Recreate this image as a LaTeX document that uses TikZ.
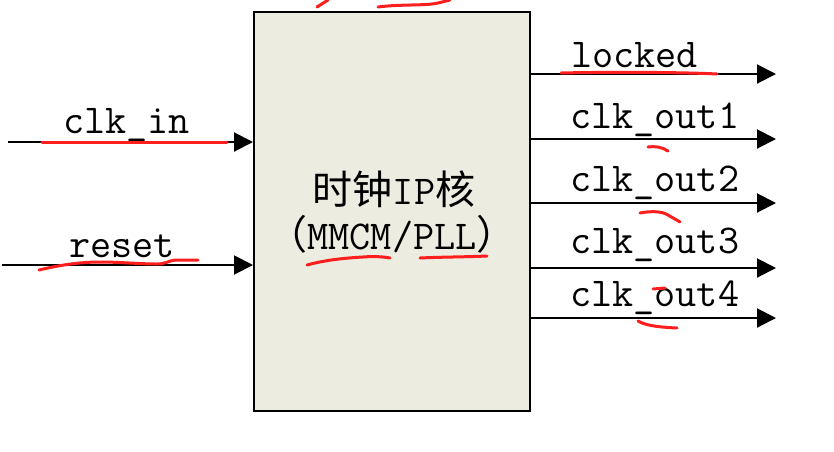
\documentclass[tikz,border=0pt]{standalone}
\usepackage{fontspec}
\newfontfamily\cjk{Noto Sans CJK SC}
\usetikzlibrary{arrows.meta}
\definecolor{boxfill}{HTML}{ECECE0}
\definecolor{pen}{HTML}{FF1E1E}
\tikzset{
  sig/.style={line width=2pt,-{Triangle[length=19pt,width=19pt]}},
  lbl/.style={anchor=base west,inner sep=0pt,font=\fontsize{41}{41}\selectfont\ttfamily},
  ctr/.style={anchor=base,inner sep=0pt,font=\fontsize{40}{40}\selectfont},
  redpen/.style={draw=pen,line width=3pt,line cap=round,line join=round},
}
\begin{document}
\begin{tikzpicture}[x=1pt,y=-1pt]
\useasboundingbox (0,0) rectangle (834,451);
\node[draw=black,line width=2pt,fill=boxfill,minimum width=276pt,minimum height=399pt,inner sep=0pt] (box) at (392,211.5) {};
\node[ctr] (t1) at (394,204) {\cjk 时钟{\fontsize{41}{41}\selectfont\ttfamily IP}核};
\node[ctr] (t2) at (392,249) {\cjk （{\fontsize{41}{41}\selectfont\ttfamily MMCM/PLL}）};
% inputs
\coordinate (i1) at (8,142);
\coordinate (i2) at (2,265);
\draw[sig] (i1) -- (i1 -| box.west);
\draw[sig] (i2) -- (i2 -| box.west);
\node[lbl] (l1) at (63,133) {clk\_in};
\node[lbl] (l2) at (69,257) {reset};
% outputs
\coordinate (o1) at (776,74);
\coordinate (o2) at (776,139);
\coordinate (o3) at (776,203);
\coordinate (o4) at (776,268);
\coordinate (o5) at (776,318);
\foreach \c in {o1,o2,o3,o4,o5} \draw[sig] (\c -| box.east) -- (\c);
\node[lbl] (r1) at (571,67) {locked};
\node[lbl] (r2) at (570,128) {clk\_out1};
\node[lbl] (r3) at (570,191) {clk\_out2};
\node[lbl] (r4) at (570,253) {clk\_out3};
\node[lbl] (r5) at (570,306) {clk\_out4};
% red annotations
\draw[redpen] (42,142) -- (227,142);
\draw[redpen] (39,270) .. controls (60,265) and (80,262) .. (100,262) .. controls (120,262) and (140,264) .. (157,264) .. controls (165,264) and (168,261) .. (175,260) -- (198,260);
\draw[redpen] (317,7) -- (328,0);
\draw[redpen] (378,7) .. controls (400,4) and (425,6) .. (438,3) -- (450,0);
\draw[redpen] (307,265) .. controls (325,260) and (345,258) .. (363,257) .. controls (375,256) and (385,257) .. (390,258);
\draw[redpen] (420,258) .. controls (440,257) and (465,257) .. (487,256);
\draw[redpen] (561,73) .. controls (600,72) and (680,72) .. (717,74);
\draw[redpen] (648,147) .. controls (655,146) and (662,147) .. (668,151);
\draw[redpen] (640,213) .. controls (650,211) and (662,211) .. (668,215) -- (680,222);
\draw[redpen] (653,289) -- (665,288);
\draw[redpen] (638,321) .. controls (645,325) and (655,327) .. (677,328);
\end{tikzpicture}
\end{document}
